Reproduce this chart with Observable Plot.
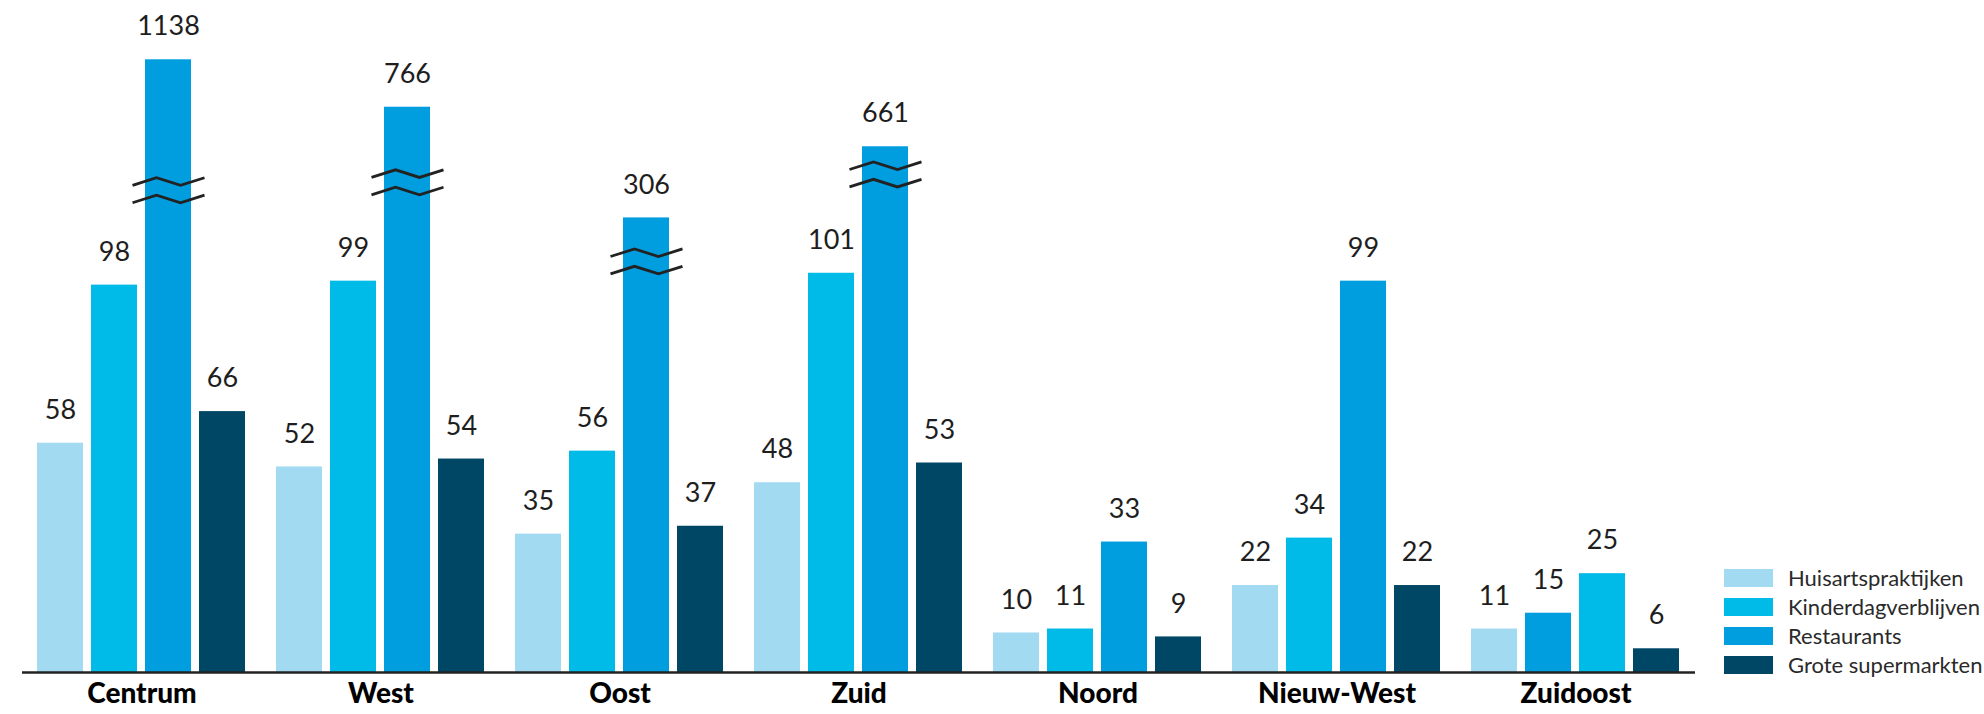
<!DOCTYPE html>
<html>
<head>
<meta charset="utf-8">
<script src="https://cdn.jsdelivr.net/npm/d3@7"></script>
<script src="https://cdn.jsdelivr.net/npm/@observablehq/plot@0.6"></script>
<style>
  html, body { margin: 0; padding: 0; background: #fff; }
  #wrap { position: relative; width: 1984px; height: 714px; overflow: hidden; font-family: Lato, "Noto Sans", sans-serif; }
  #wrap svg { display: block; }
  #legend { position: absolute; left: 1724px; top: 563px; width: 260px; }
  #legend, #legend * { font-family: Lato, sans-serif !important; font-size: 22px !important; color: #2a2a2a; }
  #legend .lg-swatches { margin: 0 !important; min-height: 0 !important; }
  #legend .lg-swatch { height: 29px; padding: 0 !important; margin: 0 !important; display: flex; align-items: center; white-space: nowrap; }
  #legend .lg-swatch svg { margin-right: 15px !important; flex: none; }
</style>
</head>
<body>
<div id="wrap"><div id="chart"></div><div id="legend"></div></div>
<script>
// ---- data ----
const districts = ["Centrum", "West", "Oost", "Zuid", "Noord", "Nieuw-West", "Zuidoost"];
const series = ["Huisartspraktijken", "Kinderdagverblijven", "Restaurants", "Grote supermarkten"];
const huisartspraktijken = [58, 52, 35, 48, 10, 22, 11];
const kinderdagverblijven = [98, 99, 56, 101, 11, 34, 15];
const restaurants = [1138, 766, 306, 661, 33, 99, 25];
const groteSupermarkten = [66, 54, 37, 53, 9, 22, 6];
// Broken (truncated) restaurant bars: drawn height and break position, in axis units
const restaurantsDrawnAs = [155, 143, 115, 133, null, null, null];
const restaurantsBreakAt = [122, 124, 104, 126, null, null, null];
const colours = ["#a2daf2", "#00bbe8", "#009ddf", "#004766"];
// In the source, Zuidoost's 2nd and 3rd bars carry each other's colour
const colourSwap = [["Zuidoost", "Kinderdagverblijven", "Restaurants"], ["Zuidoost", "Restaurants", "Kinderdagverblijven"]];

// ---- build table ----
const valuesBySeries = [huisartspraktijken, kinderdagverblijven, restaurants, groteSupermarkten];
const rows = [];
districts.forEach((d, i) => {
  series.forEach((s, j) => {
    const value = valuesBySeries[j][i];
    const drawn = (s === "Restaurants" && restaurantsDrawnAs[i] != null) ? restaurantsDrawnAs[i] : value;
    const swap = colourSwap.find(c => c[0] === d && c[1] === s);
    rows.push({district: d, series: s, value, drawn, colourKey: swap ? swap[2] : s});
  });
});
const breaks = districts
  .map((d, i) => ({district: d, series: "Restaurants", at: restaurantsBreakAt[i]}))
  .filter(b => b.at != null);

// axis-break glyph: two parallel zigzag strokes
const breakSymbol = {
  draw(ctx) {
    for (const oy of [-8.7, 8.7]) {
      ctx.moveTo(-36, oy + 3.8);
      ctx.lineTo(-12, oy - 3.8);
      ctx.lineTo(12, oy + 3.8);
      ctx.lineTo(36, oy - 3.8);
    }
  }
};

const plot = Plot.plot({
  width: 1984,
  height: 714,
  marginLeft: 20,
  marginRight: 288,
  marginTop: 0,
  marginBottom: 42,
  fx: {domain: districts, padding: 0, axis: null},
  x: {domain: series, paddingInner: 0.145, paddingOuter: 0.25, axis: null},
  y: {domain: [0, 170], axis: null},
  color: {domain: series, range: colours},
  style: {fontFamily: "Lato, 'Noto Sans', sans-serif", background: "white", overflow: "visible"},
  marks: [
    Plot.barY(rows, {fx: "district", x: "series", y: "drawn", fill: "colourKey"}),
    Plot.ruleY([0], {stroke: "#222", strokeWidth: 2.5}),
    Plot.text(rows, {fx: "district", x: "series", y: "drawn", text: d => String(d.value),
      dy: -33, fontSize: 27, fill: "#1e1e1e"}),
    Plot.dot(breaks, {fx: "district", x: "series", y: "at", symbol: breakSymbol,
      fill: "none", stroke: "#222", strokeWidth: 2.8}),
    Plot.text(districts, {fx: d => d, text: d => d, frameAnchor: "bottom", dy: 30,
      fontSize: 28, fontWeight: 900, fill: "#000"})
  ]
});
document.getElementById("chart").appendChild(plot);

const legend = plot.legend("color", {legend: "swatches", columns: 1, swatchWidth: 49, swatchHeight: 18, className: "lg"});
document.getElementById("legend").appendChild(legend);
</script>
</body>
</html>
